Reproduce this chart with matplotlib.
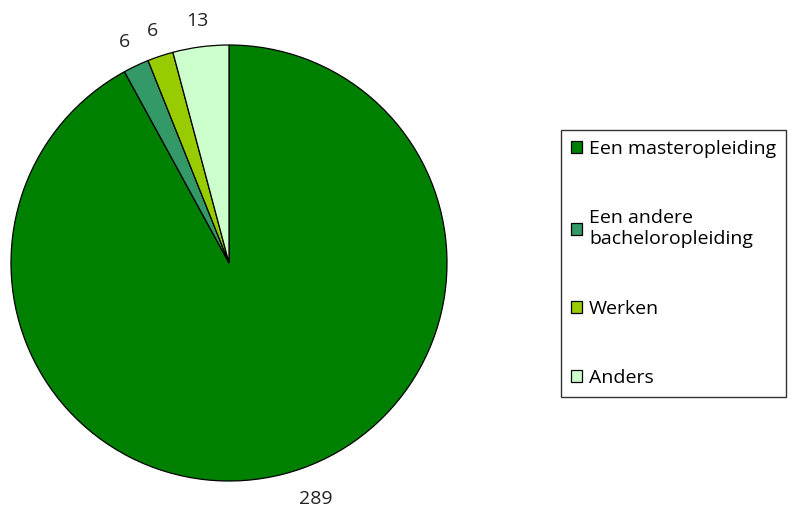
import matplotlib.pyplot as plt

categories = ["Een masteropleiding", "Een andere\nbacheloropleiding", "Werken", "Anders"]
values = [289, 6, 6, 13]
colors = ["#008000", "#339966", "#99CC00", "#CCFFCC"]

plt.rcParams['font.family'] = ['Open Sans', 'DejaVu Sans']

fig = plt.figure(figsize=(7.91, 5.13), dpi=100)
ax = fig.add_axes([0, 0, 1, 1])

wedges, texts = ax.pie(values, colors=colors, labels=[str(v) for v in values],
                       startangle=90, counterclock=False,
                       center=(229, 250), radius=218, labeldistance=1.12,
                       wedgeprops=dict(edgecolor="black", linewidth=0.9),
                       textprops=dict(fontsize=14, color="#222222"))
for t in texts:
    t.set_ha("center")
    t.set_va("center")
# Excel puts the big label a bit to the right of its slice midpoint
texts[0].set_position((316, 14))

ax.set_xlim(0, 791)
ax.set_ylim(0, 513)
ax.set_aspect("equal")
ax.axis("off")

leg = ax.legend(wedges, categories, loc="upper left",
                bbox_to_anchor=(561 / 791, 1 - 130 / 513), bbox_transform=fig.transFigure,
                frameon=True, fancybox=False, edgecolor="black", fontsize=14,
                handlelength=0.6, handleheight=0.6, handletextpad=0.35,
                labelspacing=2.65, borderpad=0.5, borderaxespad=0)
leg.get_frame().set_linewidth(1.0)

fig.savefig("out.png", dpi=100)
